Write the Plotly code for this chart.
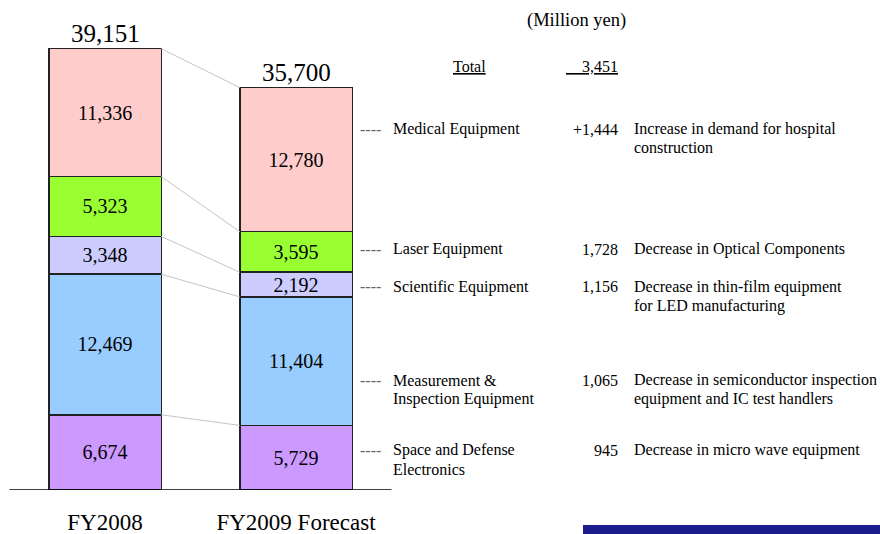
import plotly.graph_objects as go

# ---- data (bottom-to-top stacking order) ----
years = ["FY2008", "FY2009 Forecast"]
segments = ["Space and Defense Electronics", "Measurement & Inspection Equipment",
            "Scientific Equipment", "Laser Equipment", "Medical Equipment"]
segment_labels = ["Space and Defense<br>Electronics", "Measurement &<br>Inspection Equipment",
                  "Scientific Equipment", "Laser Equipment", "Medical Equipment"]
fy2008 = [6674, 12469, 3348, 5323, 11336]
fy2009 = [5729, 11404, 2192, 3595, 12780]
totals = [39151, 35700]
reasons = ["Decrease in micro wave equipment",
           "Decrease in semiconductor inspection<br>equipment and IC test handlers",
           "Decrease in thin-film equipment<br>for LED manufacturing",
           "Decrease in Optical Components",
           "Increase in demand for hospital<br>construction"]
unit_label = "(Million yen)"

# ---- styles / layout ----
colors = ["#CC99FF", "#99CCFF", "#CCCCFF", "#99FF33", "#FFCCCC"]
FONT = "Liberation Serif, Times New Roman, serif"
W, H = 880, 534
PLOT_BOTTOM = 490  # pixel of baseline
row_y_px = [450, 380, 287, 249, 129]
LINE_GAP = 19
bar_w = 0.589
xs = [0, 1]

def py(p):  # pixel y -> paper y (plot area spans pixel 0..490)
    return (PLOT_BOTTOM - p) / PLOT_BOTTOM

def px(p):
    return p / W

fig = go.Figure()

# connector lines between cumulative segment tops
cum08, cum09 = [], []
s8 = s9 = 0
for a, b in zip(fy2008, fy2009):
    s8 += a; s9 += b
    cum08.append(s8); cum09.append(s9)
for k in range(len(segments)):
    fig.add_trace(go.Scatter(
        x=[xs[0] + bar_w / 2, xs[1] - bar_w / 2], y=[cum08[k], cum09[k]],
        mode="lines", line=dict(color="#C4C4C4", width=1),
        hoverinfo="skip", showlegend=False))

for i, seg in enumerate(segments):
    vals = [fy2008[i], fy2009[i]]
    fig.add_trace(go.Bar(
        x=xs, y=vals, name=seg, width=bar_w,
        marker=dict(color=colors[i], line=dict(color="#222222", width=1.5)),
        text=[f"{v:,}" for v in vals], textposition="inside",
        insidetextanchor="middle", constraintext="none",
        textfont=dict(family=FONT, size=20, color="black"),
        showlegend=False))

annotations = []
for i, t in enumerate(totals):
    annotations.append(dict(x=xs[i], y=t, xref="x", yref="y", text=f"{t:,}",
                            yanchor="bottom", showarrow=False, yshift=0,
                            font=dict(family=FONT, size=25, color="black")))

small = dict(family=FONT, size=16, color="black")
annotations.append(dict(x=px(576), y=py(20), xref="paper", yref="paper", text=unit_label,
                        xanchor="center", yanchor="middle", showarrow=False,
                        font=dict(family=FONT, size=18.5, color="black")))
total_change = totals[0] - totals[1]
annotations.append(dict(x=px(469), y=py(67), xref="paper", yref="paper", text="<u>Total</u>",
                        xanchor="center", yanchor="middle", showarrow=False, font=small))
annotations.append(dict(x=px(620), y=py(67), xref="paper", yref="paper",
                        text="<u>\u00a0\u00a0\u00a0\u00a0" + f"{total_change:,}" + "</u>",
                        xanchor="right", yanchor="middle", showarrow=False, font=small))


def add_lines(text, x, yc, xanchor):
    for j, line in enumerate(text.split("<br>")):
        annotations.append(dict(x=px(x), y=py(yc + j * LINE_GAP), xref="paper", yref="paper",
                                text=line, xanchor=xanchor, yanchor="middle",
                                showarrow=False, font=small))


for i in range(len(segments)):
    yc = row_y_px[i]
    d = fy2009[i] - fy2008[i]
    chg = f"+{d:,}" if d > 0 else f"{-d:,}"
    annotations.append(dict(x=px(358), y=py(yc), xref="paper", yref="paper", text="----",
                            xanchor="left", yanchor="middle", showarrow=False,
                            font=dict(family=FONT, size=16, color="#666666")))
    add_lines(segment_labels[i], 391, yc, "left")
    add_lines(chg, 620, yc, "right")
    add_lines(reasons[i], 632, yc, "left")

shapes = [
    dict(type="line", xref="x", yref="y", x0=-0.5, x1=1.5, y0=0, y1=0,
         line=dict(color="black", width=1.5)),
    dict(type="rect", xref="paper", yref="paper", x0=px(583), x1=1.0, y0=py(534), y1=py(525),
         fillcolor="#1A1C8C", line=dict(width=0)),
]

fig.update_layout(
    width=W, height=H, margin=dict(l=0, r=0, t=0, b=H - PLOT_BOTTOM),
    barmode="stack", plot_bgcolor="white", paper_bgcolor="white",
    annotations=annotations, shapes=shapes, showlegend=False,
    xaxis=dict(range=[-105 / 191, (W - 105) / 191], tickvals=xs, ticktext=years,
               showgrid=False, zeroline=False, showline=False, ticks="",
               tickfont=dict(family=FONT, size=23, color="black"), ticklabelstandoff=16),
    yaxis=dict(range=[0, PLOT_BOTTOM / 0.011272], visible=False),
)

fig.write_html("out.html", config={"displayModeBar": False},
               post_script="document.body.style.margin='0';document.body.style.overflow='hidden';")
